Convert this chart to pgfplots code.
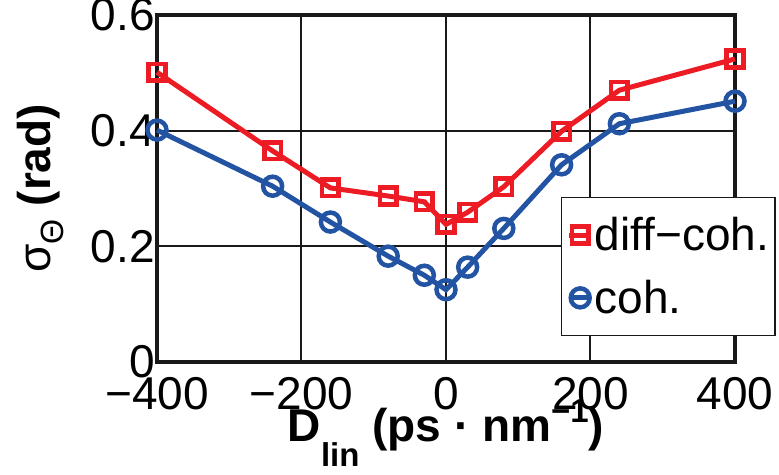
\documentclass[border=0pt]{standalone}
\usepackage{pgfplots}
\pgfplotsset{compat=1.18}
\usepackage{fontspec}
\setmainfont{Liberation Sans}
\definecolor{myred}{RGB}{237,28,36}
\definecolor{myblue}{RGB}{35,84,164}
\begin{document}
\begin{tikzpicture}
\path[use as bounding box] (0,0) rectangle (779pt,474pt);
\begin{axis}[
  at={(157pt,112pt)}, anchor=south west,
  scale only axis, width=578pt, height=347pt,
  xmin=-400, xmax=400, ymin=0, ymax=0.6,
  xtick={-400,-200,0,200,400}, xticklabels={−400,−200,0,200,400},
  ytick={0,0.2,0.4,0.6}, yticklabels={0,0.2,0.4,0.6},
  grid=major, major grid style={black!90, line width=2pt},
  axis line style={line width=4pt, black!90},
  tick style={black!90, line width=2pt}, major tick length=8pt,
  tick align=inside,
  ticklabel style={font=\fontsize{46}{50}\selectfont},
  yticklabel style={inner sep=0pt, xshift=-2pt},
  xticklabel style={inner sep=0pt, yshift=-15pt},
  clip=false,
  xlabel={D\raisebox{-25pt}{\fontsize{33}{36}\selectfont lin} (ps · nm\raisebox{19pt}{\fontsize{33}{36}\selectfont −1})},
  xlabel style={at={(axis description cs:0.5,-0.2305)}, anchor=base, font=\bfseries\fontsize{46}{50}\selectfont},
  ylabel={{\mdseries σ\textsubscript{Θ}} (rad)},
  ylabel style={at={(axis description cs:-0.185,0.5)}, anchor=base, font=\bfseries\fontsize{46}{50}\selectfont},
  legend style={at={(axis description cs:0.699,0.075)}, anchor=south west,
    draw=black!90, line width=1.4pt, fill=white,
    font=\fontsize{46}{50}\selectfont,
    inner xsep=5pt, inner ysep=20pt, row sep=28pt,
    nodes={inner xsep=1pt, inner ysep=0pt}},
  legend cell align=left,
  legend image code/.code={\draw[mark repeat=2, mark phase=2, #1] plot coordinates {(0pt,0pt) (11pt,0pt) (22pt,0pt)};},
]
\addplot[myred, line width=5pt, mark=square, mark size=8.3pt, mark options={solid, line width=4.5pt}]
  coordinates {(-400,0.501) (-240,0.365) (-160,0.301) (-80,0.287) (-30,0.277) (0,0.238) (30,0.259) (80,0.303) (160,0.399) (240,0.470) (400,0.524)};
\addlegendentry{diff−coh.}
\addplot[myblue, line width=5pt, mark=o, mark size=9.5pt, mark options={solid, line width=4.5pt}]
  coordinates {(-400,0.401) (-240,0.304) (-160,0.242) (-80,0.183) (-30,0.150) (0,0.125) (30,0.164) (80,0.231) (160,0.341) (240,0.412) (400,0.451)};
\addlegendentry{coh.}
\end{axis}
\end{tikzpicture}
\end{document}
